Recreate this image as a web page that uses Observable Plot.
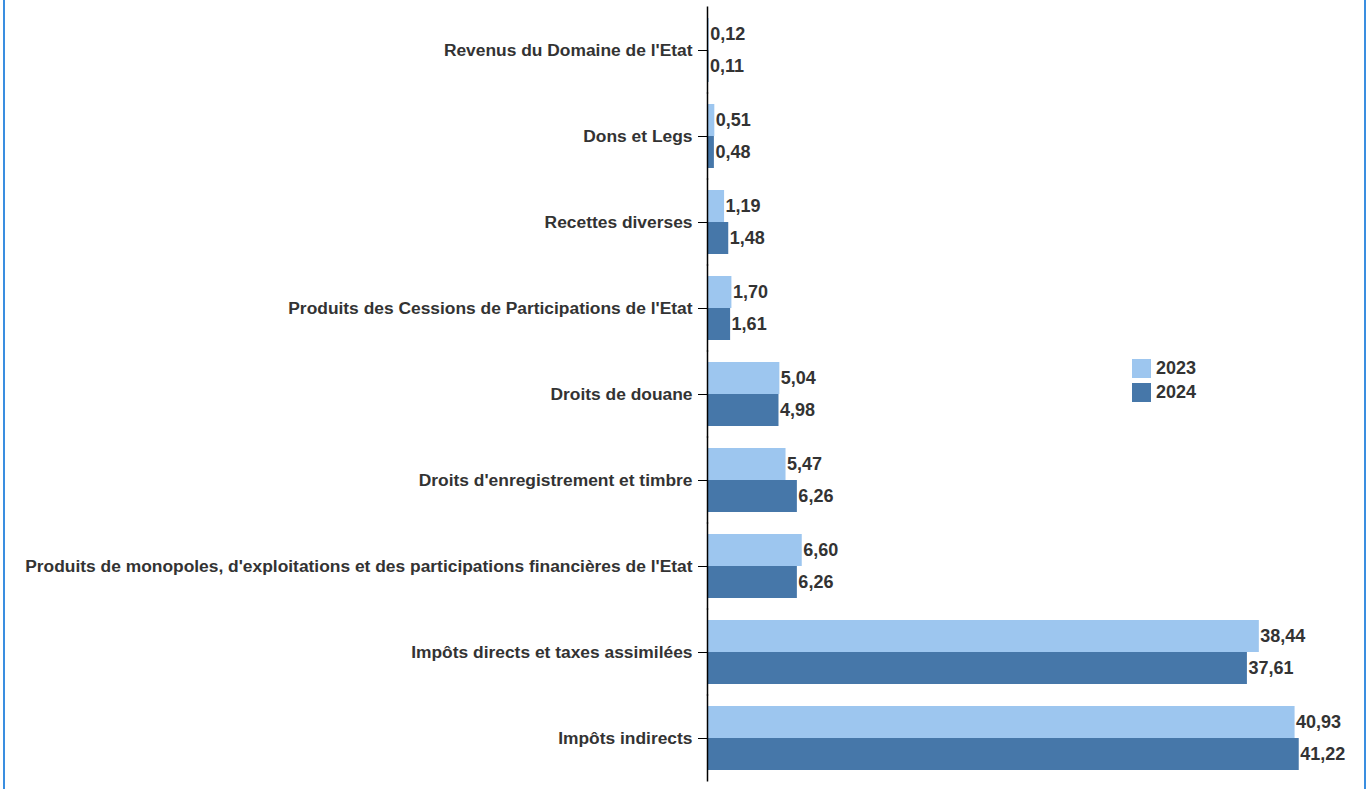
<!DOCTYPE html>
<html>
<head>
<meta charset="utf-8">
<script src="https://cdn.jsdelivr.net/npm/d3@7"></script>
<script src="https://cdn.jsdelivr.net/npm/@observablehq/plot@0.6"></script>
<style>
  html, body { margin: 0; padding: 0; background: #fff; overflow: hidden; }
  #wrap { position: relative; width: 1370px; height: 789px; font-family: "Liberation Sans", Arial, sans-serif; }
  #frame { position: absolute; left: 3px; top: -10px; width: 1359px; height: 830px; border: 2px solid #3a8ee0; pointer-events: none; }
  #chart { position: absolute; left: 0; top: 0; }
  #legend { position: absolute; left: 1132px; top: 359px; }
  .item { display: flex; align-items: center; height: 19px; margin-bottom: 5px; }
  .sw { width: 19px; height: 19px; margin-right: 5px; }
  .lab { font-size: 18px; font-weight: bold; color: #333; }
  svg text { font-family: "Liberation Sans", Arial, sans-serif; }
</style>
</head>
<body>
<div id="wrap">
  <div id="chart"></div>
  <div id="legend"></div>
  <div id="frame"></div>
</div>
<script>
const categories = [
  "Revenus du Domaine de l'Etat",
  "Dons et Legs",
  "Recettes diverses",
  "Produits des Cessions de Participations de l'Etat",
  "Droits de douane",
  "Droits d'enregistrement et timbre",
  "Produits de monopoles, d'exploitations et des participations financières de l'Etat",
  "Impôts directs et taxes assimilées",
  "Impôts indirects"
];
const years = ["2023", "2024"];
const values2023 = [0.12, 0.51, 1.19, 1.70, 5.04, 5.47, 6.60, 38.44, 40.93];
const values2024 = [0.11, 0.48, 1.48, 1.61, 4.98, 6.26, 6.26, 37.61, 41.22];
const colors = ["#9dc6ef", "#4677a9"];

const data = categories.flatMap((c, i) => [
  {category: c, year: years[0], value: values2023[i]},
  {category: c, year: years[1], value: values2024[i]}
]);
const fmt = v => d3.format(".2f")(v).replace(".", ",");

const chart = Plot.plot({
  width: 1370,
  height: 789,
  marginLeft: 707,
  marginRight: 17,
  marginTop: 6,
  marginBottom: 7,
  x: {domain: [0, 45], axis: null},
  y: {domain: years, axis: null, paddingInner: 0, paddingOuter: 0},
  fy: {domain: categories, paddingInner: 0.26, paddingOuter: 0.13, label: null},
  color: {domain: years, range: colors},
  marks: [
    Plot.axisFy({anchor: "left", tickSize: 9, tickPadding: 6, fontSize: 17.4, fontWeight: "bold", fill: "#333", label: null}),
    Plot.barX(data, {fy: "category", y: "year", x: "value", fill: "year"}),
    Plot.text(data, {fy: "category", y: "year", x: "value", text: d => fmt(d.value), dx: 1, textAnchor: "start", fontSize: 18, fontWeight: "bold", fill: "#333"}),
    Plot.ruleX([0], {stroke: "#000", strokeWidth: 1.5, insetTop: -11.5, insetBottom: -11.5})
  ]
});
document.getElementById("chart").appendChild(chart);

const legend = document.getElementById("legend");
years.forEach((y, i) => {
  const item = document.createElement("div");
  item.className = "item";
  const sw = document.createElement("div");
  sw.className = "sw";
  sw.style.background = colors[i];
  const lab = document.createElement("span");
  lab.className = "lab";
  lab.textContent = y;
  item.appendChild(sw);
  item.appendChild(lab);
  legend.appendChild(item);
});
</script>
</body>
</html>
